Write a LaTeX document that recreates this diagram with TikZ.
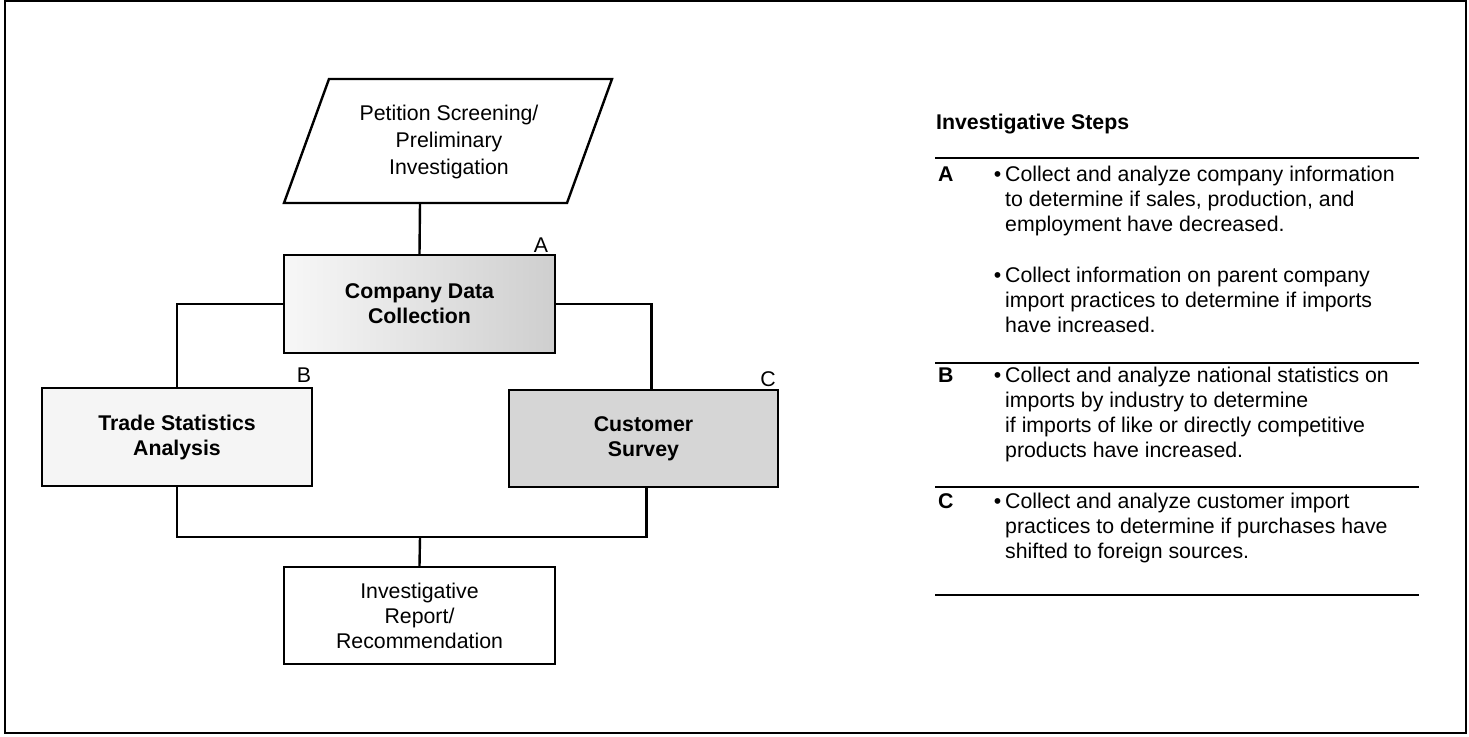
\documentclass[tikz,border=0pt]{standalone}
\usepackage{fontspec}
\setmainfont{Liberation Sans}
\usetikzlibrary{positioning}
\tikzset{
  flow font/.style={font=\fontsize{21.3}{25}\selectfont},
  flow box/.style={draw,line width=2.4pt,minimum width=271pt,minimum height=98pt,inner sep=0pt,align=center,flow font},
  flow bold/.style={flow box,font=\fontsize{21.3}{25}\selectfont\bfseries},
  flow input/.style={draw,line width=2.4pt,line join=miter},
  flow link/.style={line width=2.4pt},
  box tag/.style={inner sep=0pt,flow font},
  step key/.style={anchor=base west,inner sep=0pt,font=\fontsize{21.3}{25}\selectfont\bfseries},
  step text/.style={anchor=base west,inner sep=0pt,align=left,flow font},
  step rule/.style={line width=1.6pt},
  outer frame/.style={draw,line width=1.6pt}
}
\newcommand{\stepbullet}{\llap{\textbullet\hspace{4pt}}}

\begin{document}
\begin{tikzpicture}[x=1pt,y=1pt]
  \useasboundingbox (0,0) rectangle (1469,736);
  \draw[outer frame] (5,735) rectangle (1466,3);
  % flowchart
  \draw[flow input] (329,657) -- (612,657) -- (567,533) -- (284,533) -- cycle;
  \node[align=center,flow font,font=\fontsize{21.3}{27}\selectfont] (petition) at (449,594) {Petition Screening/\\Preliminary\\Investigation};
  \coordinate (petbot) at (420,533);
  \node[flow bold,left color=gray!6,right color=gray!38] (company) at (419.5,432) {Company Data\\Collection};
  \node[flow bold,fill=gray!8,minimum width=270pt] (trade) at (177,299) {Trade Statistics\\Analysis};
  \node[flow bold,fill=gray!32,minimum width=269pt,minimum height=97pt] (customer) at (643.5,297.5) {Customer\\Survey};
  \node[flow box,minimum height=97pt] (report) at (419.5,120.5) {Investigative\\Report/\\Recommendation};
  \node[box tag] (tagA) at (541,491) {A};
  \node[box tag] (tagB) at (304,361) {B};
  \node[box tag] (tagC) at (768,357) {C};
  \coordinate (join) at (420,199);
  \draw[flow link] (petbot) -- (company.north);
  \draw[flow link] (company.west) -| (trade.north);
  \draw[flow link] (company.east) -| ([xshift=8pt]customer.north);
  \draw[flow link] (trade.south) |- (join) -| ([xshift=3pt]customer.south);
  \draw[flow link] (join) -- (report.north);
  % investigative steps (base = last line)
  \node[step key] (title) at (936,606) {Investigative Steps};
  \foreach \y in {578,373,249,141}{\draw[step rule] (935,\y) -- (1419,\y);}
  \node[step key] (keyA) at (938,554) {A};
  \node[step text] (itemA1) at (1005,504) {\stepbullet Collect and analyze company information\\to determine if sales, production, and\\employment have decreased.};
  \node[step text] (itemA2) at (1005,403) {\stepbullet Collect information on parent company\\import practices to determine if imports\\have increased.};
  \node[step key] (keyB) at (938,353) {B};
  \node[step text] (itemB) at (1005,278) {\stepbullet Collect and analyze national statistics on\\imports by industry to determine\\if imports of like or directly competitive\\products have increased.};
  \node[step key] (keyC) at (938,227) {C};
  \node[step text] (itemC) at (1005,177) {\stepbullet Collect and analyze customer import\\practices to determine if purchases have\\shifted to foreign sources.};
\end{tikzpicture}
\end{document}
